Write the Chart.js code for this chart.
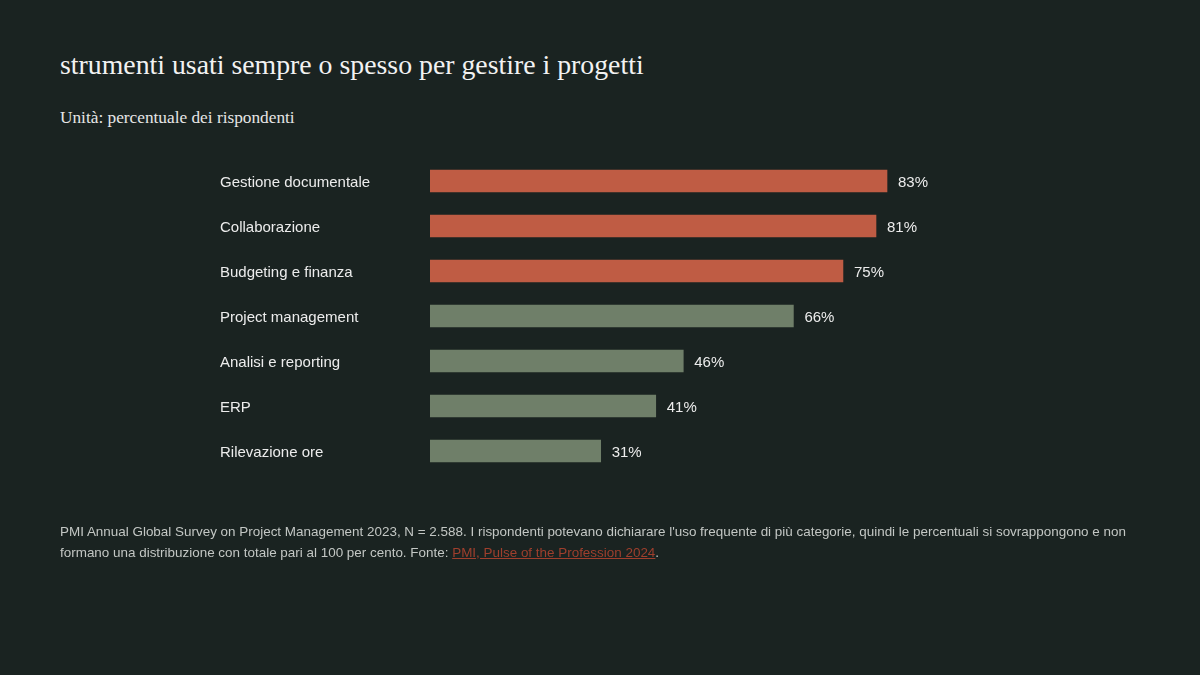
<!DOCTYPE html>
<html>
<head>
<meta charset="utf-8">
<script src="https://cdn.jsdelivr.net/npm/chart.js@4"></script>
<style>
  html, body { margin: 0; padding: 0; background: #1a2321; }
  #wrap { position: relative; width: 1200px; height: 675px; overflow: hidden; }
  #title { position: absolute; left: 60px; top: 49px; font-family: "Liberation Serif", serif; font-size: 27.8px; color: #f2f2f2; white-space: nowrap; }
  #subtitle { position: absolute; left: 60px; top: 108px; font-family: "Liberation Serif", serif; font-size: 17.3px; color: #e6e6e6; }
  #note { position: absolute; left: 60px; top: 521px; width: 1090px; font-family: "Liberation Sans", Arial, sans-serif; font-size: 13.45px; line-height: 21px; color: #c3c7c4; }
  #note a { color: #9f3f2d; }
  #chart { position: absolute; left: 0; top: 0; }
</style>
</head>
<body>
<div id="wrap">
  <div id="title">strumenti usati sempre o spesso per gestire i progetti</div>
  <div id="subtitle">Unità: percentuale dei rispondenti</div>
  <canvas id="chart" width="1200" height="675"></canvas>
  <div id="note">PMI Annual Global Survey on Project Management 2023, N = 2.588. I rispondenti potevano dichiarare l'uso frequente di più categorie, quindi le percentuali si sovrappongono e non formano una distribuzione con totale pari al 100 per cento. Fonte: <a href="#">PMI, Pulse of the Profession 2024</a>.</div>
</div>
<script>
// Data
const categories = [
    "Gestione documentale",
    "Collaborazione",
    "Budgeting e finanza",
    "Project management",
    "Analisi e reporting",
    "ERP",
    "Rilevazione ore"
];
const values = [83, 81, 75, 66, 46, 41, 31];
const highlighted = [true, true, true, false, false, false, false];

const orange = '#bf5c44';
const sage = '#6f7f69';

// Draw category names on the left and percentages after each bar
const labelPlugin = {
    id: 'barLabels',
    afterDatasetsDraw(chart) {
        const c = chart.ctx;
        const meta = chart.getDatasetMeta(0);
        c.save();
        c.font = '15px "Liberation Sans", Arial, sans-serif';
        c.fillStyle = '#ececec';
        c.textBaseline = 'middle';
        c.textAlign = 'left';
        meta.data.forEach((bar, i) => {
            c.fillText(categories[i], 220, bar.y + 1.5);
            c.fillText(values[i] + '%', bar.x + 11, bar.y + 1.5);
        });
        c.restore();
    }
};

const chart = new Chart(document.getElementById('chart').getContext('2d'), {
    type: 'bar',
    data: {
        labels: categories,
        datasets: [{
            data: values,
            backgroundColor: highlighted.map(h => h ? orange : sage),
            borderWidth: 0,
            barThickness: 22
        }]
    },
    options: {
        indexAxis: 'y',
        responsive: false,
        animation: false,
        events: [],
        layout: { padding: { left: 430, right: 219.4, top: 158.5, bottom: 201.5 } },
        scales: {
            x: { display: false, min: 0, max: 100 },
            y: { display: false }
        },
        plugins: {
            legend: { display: false },
            tooltip: { enabled: false }
        }
    },
    plugins: [labelPlugin]
});
</script>
</body>
</html>
